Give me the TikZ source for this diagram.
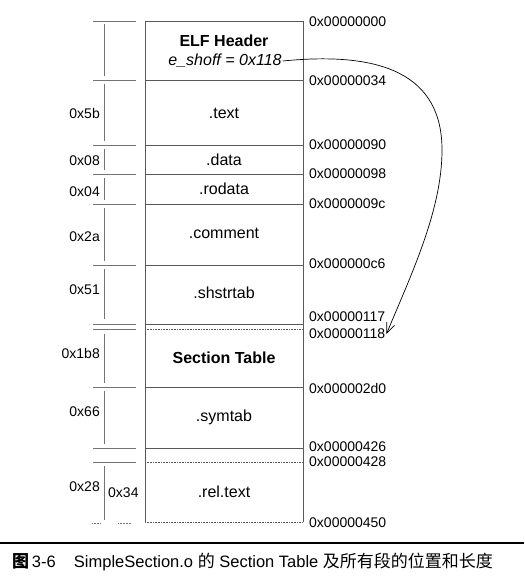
\documentclass[tikz,border=0pt]{standalone}
\usepackage{fontspec}
\setmainfont{Liberation Sans}
\newfontfamily\cjk{Noto Sans CJK SC}
\usetikzlibrary{arrows.meta,positioning}

\begin{document}
\begin{tikzpicture}[
x=1pt, y=-1pt,
sec/.style={font=\fontsize{16}{18}\selectfont, inner sep=1pt},
addr/.style={anchor=west, font=\fontsize{14}{16}\selectfont, inner sep=1pt},
size/.style={anchor=east, font=\fontsize{14}{16}\selectfont, inner sep=1pt},
edge/.style={draw=black!65, line width=0.6pt},
tick/.style={draw=black!55, line width=0.5pt},
arrow/.style={-{Straight Barb[angle=45:11pt]}, line width=0.7pt}
]
\useasboundingbox (0,0) rectangle (524,577);

% Section box
\draw[edge] (145,21) -- (303,21);
\draw[edge] (145,21) -- (145,522) (303,21) -- (303,522);
\foreach \y in {80,145,174,204,265,324,387,448}
  \draw[edge] (145,\y) -- (303,\y);
\draw[edge, densely dotted] (145,329) -- (303,329);
\draw[edge, densely dotted] (145,462) -- (303,462);
\draw[edge, densely dotted] (145,522) -- (303,522);

% Section names
\node[sec] (elf) at (224,41) {\textbf{ELF Header}};
\node[sec] (shoff) at (225,61) {\textit{e\_shoff = 0x118}};
\node[sec] (text) at (224,113) {.text};
\node[sec] (data) at (224,160) {.data};
\node[sec] (rodata) at (224,189) {.rodata};
\node[sec] (comment) at (224,233) {.comment};
\node[sec] (shstrtab) at (224,293) {.shstrtab};
\node[sec] (sectab) at (224,358) {\textbf{Section Table}};
\node[sec] (symtab) at (224,417) {.symtab};
\node[sec] (reltext) at (224,492) {.rel.text};

% Addresses
\foreach \ly/\addr/\nm in {22/00000000/a0, 81/00000034/a34, 145/00000090/a90,
    174/00000098/a98, 204/0000009c/a9c, 264/000000c6/ac6, 317/00000117/a117,
    334/00000118/a118, 388/000002d0/a2d0, 447/00000426/a426, 462/00000428/a428,
    523/00000450/a450}
  \node[addr] (\nm) at (308,\ly) {0x\addr};

% Sizes
\foreach \y in {21,80,145,174,204,265,324,329,387,448,462}
  \draw[tick] (93,\y) -- (136,\y);
\draw[tick, densely dotted] (92,523) -- (100,523) (118,523) -- (131,523);
\foreach \a/\b in {24/76,84/141,149/170,178/200,208/261,269/319,334/383,391/444,466/520}
  \draw[tick] (104,\a) -- (104,\b);
\foreach \y/\s in {113/5b,161/08,192/04,237/2a,290/51,353/1b8,412/66,487/28}
  \node[size] (s\s) at (101,\y) {0x\s};
\node[size, anchor=west] (s34) at (107,493) {0x34};

% Pointer to the section table
\coordinate (bulge) at (442,150);
\draw[arrow] (shoff.east) .. controls +(100,-10) and +(0,-75) .. (bulge)
  .. controls +(0,60) and +(25,-60) .. (a118.east);

% Caption
\draw[line width=1.8pt] (0,543) -- (524,543);
\node[anchor=west, font=\fontsize{16.5}{18}\selectfont, inner sep=0pt] (caption) at (12,562)
  {{\cjk\bfseries\fontsize{17}{19}\selectfont 图}\,3-6\hspace{1.1em}SimpleSection.o
   {\cjk\fontsize{17}{19}\selectfont 的} Section Table
   {\cjk\fontsize{17}{19}\selectfont 及所有段的位置和长度}};

\end{tikzpicture}
\end{document}
